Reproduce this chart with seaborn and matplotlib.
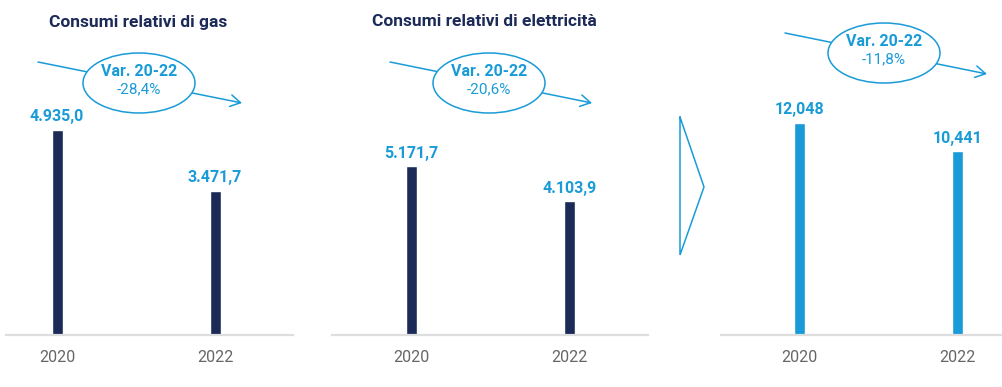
import matplotlib
matplotlib.use("Agg")
import matplotlib.pyplot as plt
from matplotlib.patches import Ellipse
import pandas as pd
import seaborn as sns

# --- data -------------------------------------------------------------
years = ["2020", "2022"]
gas_values = [4935.0, 3471.7]
elec_values = [5171.7, 4103.9]
ratio_values = [12.048, 10.441]

gas_labels = ["4.935,0", "3.471,7"]
elec_labels = ["5.171,7", "4.103,9"]
ratio_labels = ["12,048", "10,441"]

titles = ["Consumi relativi di gas", "Consumi relativi di elettricità", ""]
var_title = "Var. 20-22"
var_labels = ["-28,4%", "-20,6%", "-11,8%"]

# --- style ------------------------------------------------------------
NAVY = "#1c2a58"
BLUE = "#199bd8"
GREY_TXT = "#666666"
BASE = "#dedede"

sns.set_theme(style="white")
plt.rcParams["font.family"] = ["Roboto", "DejaVu Sans"]

W, H = 1002, 387
fig = plt.figure(figsize=(W / 100, H / 100), dpi=100)


def px_axes(x0, x1, y_top, y_bottom):
    return fig.add_axes([x0 / W, 1 - y_bottom / H, (x1 - x0) / W, (y_bottom - y_top) / H])


# panel geometry: (left, right, first bar centre, ymax)
panels = [
    dict(x0=6, x1=293, c0=57, values=gas_values, labels=gas_labels, color=NAVY, ymax=8065),
    dict(x0=332, x1=648, c0=411.5, values=elec_values, labels=elec_labels, color=NAVY, ymax=10280),
    dict(x0=721, x1=1002, c0=799.5, values=ratio_values, labels=ratio_labels, color=BLUE, ymax=19.04),
]
step = 158.0  # pixels between the two bars
baseline = 335

for p in panels:
    ax = px_axes(p["x0"], p["x1"], 0, baseline)
    df = pd.DataFrame({"anno": years, "valore": p["values"]})
    sns.barplot(data=df, x="anno", y="valore", color=p["color"], width=11 / step,
                saturation=1, ax=ax)
    left = -(p["c0"] - p["x0"]) / step
    right = left + (p["x1"] - p["x0"]) / step
    ax.set_xlim(left, right)
    ax.set_ylim(0, p["ymax"])
    ax.set_xlabel("")
    ax.set_ylabel("")
    ax.set_yticks([])
    for s in ["top", "left", "right"]:
        ax.spines[s].set_visible(False)
    ax.spines["bottom"].set_color(BASE)
    ax.spines["bottom"].set_linewidth(1.6)
    ax.tick_params(axis="x", length=0, pad=11, labelsize=11.5, labelcolor=GREY_TXT)
    ax.patch.set_alpha(0)
    for i, (v, lab) in enumerate(zip(p["values"], p["labels"])):
        ax.annotate(lab, xy=(i, v), xytext=(0, 9.5), textcoords="offset points",
                    ha="center", va="center", fontsize=11.5, fontweight="bold",
                    color=BLUE)

# --- overlay in pixel coordinates: titles, variation bubbles, chevron ---
ov = fig.add_axes([0, 0, 1, 1], zorder=10)
ov.set_xlim(0, W)
ov.set_ylim(H, 0)
ov.axis("off")
ov.patch.set_alpha(0)

title_x = [49, 372]
for tx, t in zip(title_x, titles[:2]):
    ov.text(tx, 22, t, ha="left", va="center", fontsize=12.5, fontweight="bold",
            color=NAVY)

bubbles = [
    dict(start=(38, 62), end=(242, 103), centre=(139, 83)),
    dict(start=(390, 62), end=(592, 103), centre=(489, 83)),
    dict(start=(785, 33), end=(987, 74), centre=(884, 53)),
]
for b, lab in zip(bubbles, var_labels):
    ov.annotate("", xy=b["end"], xytext=b["start"],
                arrowprops=dict(arrowstyle="->,head_length=0.6,head_width=0.35",
                                color=BLUE, lw=1.1, shrinkA=0, shrinkB=0))
    ov.add_patch(Ellipse(b["centre"], 112, 60, facecolor="white", edgecolor=BLUE,
                         lw=1.1, zorder=5))
    cx, cy = b["centre"]
    ov.text(cx, cy - 11, var_title, ha="center", va="center", fontsize=11.5,
            fontweight="bold", color=BLUE, zorder=6)
    ov.text(cx, cy + 6, lab, ha="center", va="center", fontsize=11,
            fontweight="normal", color=BLUE, zorder=6)

# chevron pointing to the ratio panel
ov.plot([680, 680, 704, 680], [117, 255, 187, 117], color=BLUE, lw=1.1,
        solid_joinstyle="miter")

fig.savefig("out.png", dpi=100)
